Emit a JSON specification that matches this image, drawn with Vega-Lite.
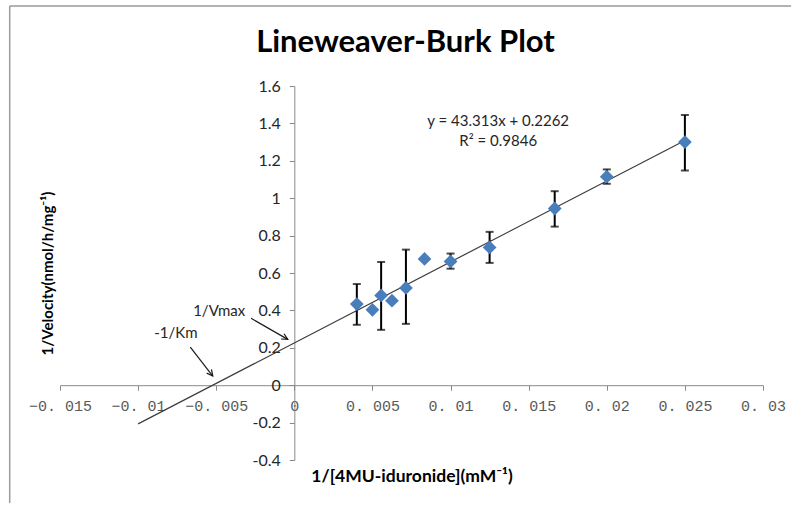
{
  "$schema": "https://vega.github.io/schema/vega-lite/v6.json",
  "width": 703,
  "height": 374,
  "autosize": {"type": "none"},
  "padding": {"left": 60, "top": 86, "right": 29, "bottom": 46},
  "background": "white",
  "config": {"view": {"stroke": null}, "axis": {"grid": false}},
  "title": {
    "text": "Lineweaver-Burk Plot",
    "font": "Lato",
    "fontSize": 31,
    "fontWeight": "bold",
    "color": "#000000",
    "anchor": "middle",
    "baseline": "alphabetic",
    "offset": 0,
    "dy": 78,
    "dx": -6
  },
  "datasets": {
    "pts": [
      {"x": 0.004, "y": 0.434},
      {"x": 0.005, "y": 0.403},
      {"x": 0.005556, "y": 0.48},
      {"x": 0.00625, "y": 0.452},
      {"x": 0.007143, "y": 0.52},
      {"x": 0.008333, "y": 0.675},
      {"x": 0.01, "y": 0.662},
      {"x": 0.0125, "y": 0.737},
      {"x": 0.016667, "y": 0.945},
      {"x": 0.02, "y": 1.115},
      {"x": 0.025, "y": 1.3}
    ],
    "err": [
      {"x": 0.004, "lo": 0.323, "hi": 0.541},
      {"x": 0.005556, "lo": 0.296, "hi": 0.659},
      {"x": 0.007143, "lo": 0.328, "hi": 0.725},
      {"x": 0.01, "lo": 0.623, "hi": 0.704},
      {"x": 0.0125, "lo": 0.654, "hi": 0.82},
      {"x": 0.016667, "lo": 0.848, "hi": 1.0375},
      {"x": 0.02, "lo": 1.077, "hi": 1.154},
      {"x": 0.025, "lo": 1.148, "hi": 1.445}
    ],
    "trend": [
      {"x": -0.01, "y": -0.2069},
      {"x": 0.025, "y": 1.309}
    ],
    "arrows": [
      {"x1": -0.00277, "y1": 0.358, "x2": -0.00042, "y2": 0.245, "ang": 120},
      {"x1": -0.00666, "y1": 0.203, "x2": -0.00522, "y2": 0.049, "ang": 142}
    ],
    "notes": [
      {"x": -0.00481, "y": 0.399, "t": "1/Vmax"},
      {"x": -0.00758, "y": 0.28, "t": "-1/Km"},
      {"x": 0.01305, "y": 1.413, "t": "y = 43.313x + 0.2262"},
      {"x": 0.01305, "y": 1.306, "t": "R² = 0.9846"}
    ],
    "frame": [
      {"xa": -0.01822, "xb": -0.01822, "ya": -0.63, "yb": 2.028},
      {"xa": -0.01822, "xb": 0.0318, "ya": 2.028, "yb": 2.028}
    ]
  },
  "layer": [
    {
      "data": {"name": "trend"},
      "mark": {"type": "line", "color": "#3c3c3c", "strokeWidth": 1.2},
      "encoding": {
        "x": {
          "field": "x", "type": "quantitative",
          "scale": {"domain": [-0.015, 0.03], "nice": false, "zero": false},
          "axis": {
            "orient": "bottom",
            "offset": -74.8,
            "values": [-0.015, -0.01, -0.005, 0, 0.005, 0.01, 0.015, 0.02, 0.025, 0.03],
            "labelExpr": "datum.value == 0 ? '0' : replace(replace(format(datum.value, '.3~f'), '.', '. '), '-', '−')",
            "labelFont": "Liberation Mono",
            "labelFontSize": 15,
            "labelColor": "#595959",
            "labelPadding": 8,
            "labelFlush": false,
            "labelOverlap": false,
            "domainColor": "#8a8a8a",
            "tickColor": "#8a8a8a",
            "tickSize": 5,
            "title": "1/[4MU-iduronide](mM⁻¹)",
            "titleFont": "Lato",
            "titleFontSize": 17.5,
            "titleFontWeight": "bold",
            "titleColor": "#000000",
            "titleX": 351.5,
            "titleY": 91,
            "titleBaseline": "middle"
          }
        },
        "y": {
          "field": "y", "type": "quantitative",
          "scale": {"domain": [-0.4, 1.6], "nice": false, "zero": false},
          "axis": {
            "orient": "left",
            "offset": -234.33,
            "values": [-0.4, -0.2, 0, 0.2, 0.4, 0.6, 0.8, 1, 1.2, 1.4, 1.6],
            "tickCount": 11,
            "labelExpr": "toString(datum.value)",
            "labelFont": "Lato",
            "labelFontSize": 16,
            "labelColor": "#262626",
            "labelPadding": 9,
            "labelFlush": false,
            "labelOverlap": false,
            "domainColor": "#8a8a8a",
            "tickColor": "#8a8a8a",
            "tickSize": 5,
            "title": "1/Velocity(nmol/h/mg⁻¹)",
            "titleFont": "Lato",
            "titleFontSize": 15,
            "titleFontWeight": "bold",
            "titleColor": "#000000",
            "titleAngle": -90,
            "titleX": -247,
            "titleY": 187,
            "titleBaseline": "middle"
          }
        }
      }
    },
    {
      "data": {"name": "err"},
      "mark": {"type": "rule", "color": "#000000", "strokeWidth": 2},
      "encoding": {
        "x": {"field": "x", "type": "quantitative"},
        "y": {"field": "lo", "type": "quantitative"},
        "y2": {"field": "hi"}
      }
    },
    {
      "data": {"name": "err"},
      "mark": {"type": "tick", "orient": "horizontal", "color": "#000000", "size": 8, "thickness": 2},
      "encoding": {
        "x": {"field": "x", "type": "quantitative"},
        "y": {"field": "lo", "type": "quantitative"}
      }
    },
    {
      "data": {"name": "err"},
      "mark": {"type": "tick", "orient": "horizontal", "color": "#000000", "size": 8, "thickness": 2},
      "encoding": {
        "x": {"field": "x", "type": "quantitative"},
        "y": {"field": "hi", "type": "quantitative"}
      }
    },
    {
      "data": {"name": "pts"},
      "mark": {"type": "point", "shape": "diamond", "filled": true, "color": "#4A7EBB", "opacity": 1, "size": 190},
      "encoding": {
        "x": {"field": "x", "type": "quantitative"},
        "y": {"field": "y", "type": "quantitative"}
      }
    },
    {
      "data": {"name": "arrows"},
      "mark": {"type": "rule", "color": "#1a1a1a", "strokeWidth": 1.2},
      "encoding": {
        "x": {"field": "x1", "type": "quantitative"},
        "y": {"field": "y1", "type": "quantitative"},
        "x2": {"field": "x2"},
        "y2": {"field": "y2"}
      }
    },
    {
      "data": {"name": "arrows"},
      "mark": {"type": "point", "shape": "M-0.45,0.9L0,0L0.45,0.9", "filled": false, "stroke": "#1a1a1a", "strokeWidth": 1.2, "opacity": 1, "size": 180},
      "encoding": {
        "x": {"field": "x2", "type": "quantitative"},
        "y": {"field": "y2", "type": "quantitative"},
        "angle": {"field": "ang", "type": "quantitative", "scale": null}
      }
    },
    {
      "data": {"name": "notes"},
      "mark": {"type": "text", "font": "Lato", "fontSize": 15, "color": "#262626", "align": "center", "baseline": "middle"},
      "encoding": {
        "x": {"field": "x", "type": "quantitative"},
        "y": {"field": "y", "type": "quantitative"},
        "text": {"field": "t"}
      }
    },
    {
      "data": {"name": "frame"},
      "mark": {"type": "rule", "stroke": "#9a9a9a", "strokeWidth": 1.5, "clip": false},
      "encoding": {
        "x": {"field": "xa", "type": "quantitative"},
        "x2": {"field": "xb"},
        "y": {"field": "ya", "type": "quantitative"},
        "y2": {"field": "yb"}
      }
    }
  ]
}
